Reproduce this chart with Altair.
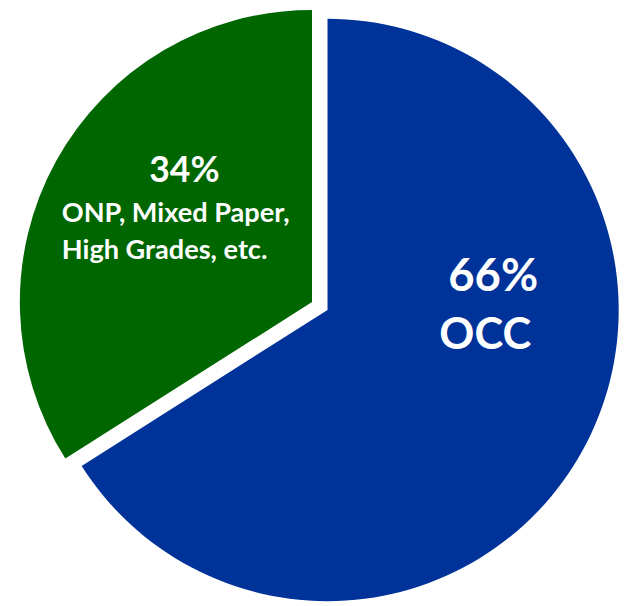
import altair as alt
import pandas as pd

categories = ["OCC", "ONP, Mixed Paper, High Grades, etc."]
shares = [66, 34]
colors = ["#003399", "#006600"]
pct_labels = ["66%", "34%"]
name_lines = ["OCC", "ONP, Mixed Paper,", "High Grades, etc."]

df = pd.DataFrame({"category": categories, "share": shares, "order": [0, 1]})

W, H = 619, 598

base = alt.Chart(df).transform_stack(
    stack="share", as_=["s0", "s1"], groupby=[], sort=[alt.SortField("order")]
)

color = alt.Color(
    "category:N",
    scale=alt.Scale(domain=categories, range=colors),
    legend=None,
)
theta_scale = alt.Scale(domain=[0, 100], range=[0, 6.283185307179586])

blue = base.transform_filter(alt.datum.category == categories[0]).mark_arc(
    outerRadius=295, xOffset=14.2, yOffset=3
).encode(
    theta=alt.Theta("s0:Q", scale=theta_scale),
    theta2="s1:Q",
    color=color,
)

green = base.transform_filter(alt.datum.category == categories[1]).mark_arc(
    outerRadius=296, xOffset=-1.5, yOffset=-5
).encode(
    theta=alt.Theta("s0:Q", scale=theta_scale),
    theta2="s1:Q",
    color=color,
)

def label(text, size, dx, dy, align="center"):
    d = pd.DataFrame({"t": [text]})
    return alt.Chart(d).mark_text(
        font="Lato", fontWeight="bold", fontSize=size, color="white",
        align=align, baseline="alphabetic", dx=dx, dy=dy,
    ).encode(text="t:N")

texts = [
    label(pct_labels[0], 46, 182, -16.3),
    label(name_lines[0], 44, 174, 43),
    label(pct_labels[1], 36, -130.8, -127),
    label(name_lines[1], 27.5, -255, -86, align="left"),
    label(name_lines[2], 27.5, -255, -48.7, align="left"),
]

chart = alt.layer(blue, green, *texts).properties(
    width=W, height=H, padding=0, autosize=alt.AutoSizeParams(type="none")
).configure_view(stroke=None)

chart.save("out.html", embed_options={"renderer": "svg", "actions": False})
